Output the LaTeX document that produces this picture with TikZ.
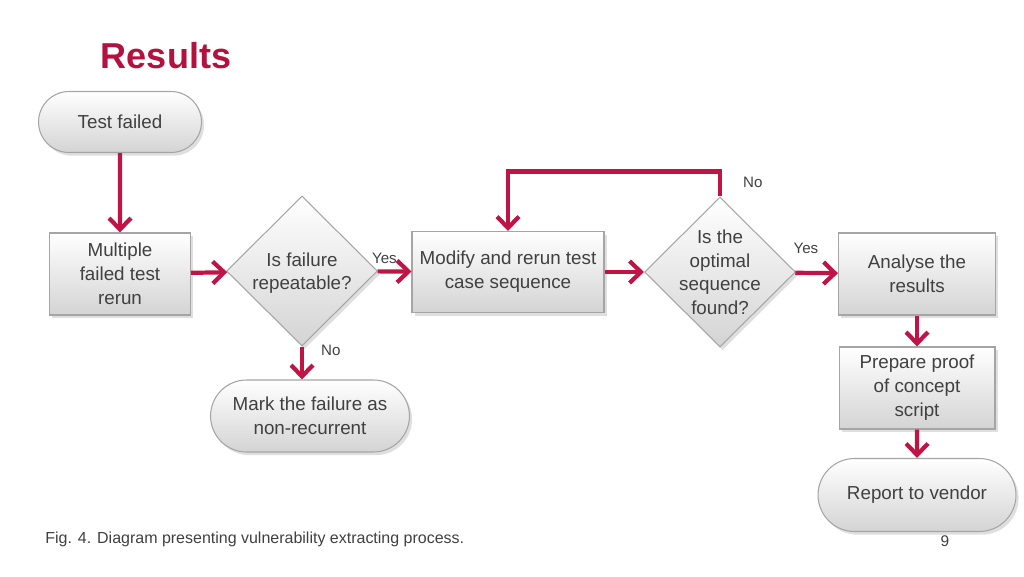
\documentclass[tikz,border=0pt]{standalone}
\usepackage{fontspec}
\setmainfont{Liberation Sans}
\usetikzlibrary{shapes.geometric,shapes.misc,shadows,arrows.meta}
\definecolor{crim}{RGB}{192,20,70}
\definecolor{titlecol}{RGB}{179,18,63}
\definecolor{txt}{RGB}{64,64,64}
\definecolor{bord}{RGB}{165,165,165}
\begin{document}
\begin{tikzpicture}[x=0.02cm,y=-0.02cm,
  base/.style={draw=bord, line width=0.6pt, top color=white, bottom color=black!17,
    text=txt, font=\fontsize{10.7}{13.6}\selectfont, align=center,
    drop shadow={shadow xshift=1.5pt, shadow yshift=-1.8pt, opacity=0.25}},
  pill/.style={base, rounded rectangle, inner sep=2pt},
  box/.style={base, rectangle, inner sep=2pt},
  dia/.style={base, diamond, inner sep=0pt, minimum width=3.02cm, minimum height=3.0cm},
  arr/.style={draw=crim, line width=2.4pt, -{Straight Barb[length=6.5pt,width=12.5pt]}},
  lbl/.style={text=txt, font=\fontsize{8.6}{10}\selectfont, inner sep=1pt}]
\useasboundingbox (0,0) rectangle (1024,576);

\node[text=titlecol, font=\fontsize{20.5}{24}\bfseries\selectfont, inner sep=0pt] (title) at (166,56) {Results};

\node[pill, minimum width=3.4cm, minimum height=1.22cm] (t) at (120,122) {Test failed};
\node[box, minimum width=2.82cm, minimum height=1.64cm] (m) at (120,274) {Multiple\\failed test\\rerun};
\node[dia] (d1) at (302,271) {\smash{\raisebox{-4pt}{\begin{tabular}[c]{@{}c@{}}Is failure\\repeatable?\end{tabular}}}};
\node[box, minimum width=3.84cm, minimum height=1.62cm] (r2) at (508,272) {Modify and rerun test\\case sequence};
\node[dia] (d2) at (720,272) {\smash{\raisebox{-4pt}{\begin{tabular}[c]{@{}c@{}}Is the\\optimal\\sequence\\found?\end{tabular}}}};
\node[box, minimum width=3.14cm, minimum height=1.64cm] (a) at (917,274) {Analyse the\\results};
\node[box, minimum width=3.12cm, minimum height=1.64cm] (p) at (917,388) {Prepare proof\\of concept\\script};
\node[pill, minimum width=4.1cm, minimum height=1.46cm] (rep) at (917,495) {Report to vendor};
\node[pill, minimum width=4.12cm, minimum height=1.44cm] (mk) at (310,416) {Mark the failure as\\non-recurrent};

\draw[arr] (t) -- (m);
\draw[arr] (m) -- (d1);
\draw[arr] (d1) -- (r2) node[lbl, pos=0.2, above, yshift=2pt] (y1) {Yes};
\draw[arr] (r2) -- (d2);
\draw[arr] (d2) -- (a) node[lbl, pos=0.25, above, yshift=9pt] (y2) {Yes};
\draw[arr] (d2.north) -- ++(0,-25) coordinate (c1) -| (r2.north);
\node[lbl, anchor=west] (n2) at (741,182) {No};
\draw[arr] (d1.south) -- (d1.south |- mk.north);
\node[lbl, anchor=west] (n1) at (319,350) {No};
\draw[arr] (a) -- (p);
\draw[arr] (p) -- (rep);

\node[anchor=west, text=txt, font=\fontsize{9.1}{11}\selectfont, inner sep=0pt] (cap) at (45,539) {Fig. 4. Diagram presenting vulnerability extracting process.};
\node[text=txt, font=\fontsize{8.8}{10}\selectfont, inner sep=0pt] (pg) at (945,541) {9};
\end{tikzpicture}
\end{document}
